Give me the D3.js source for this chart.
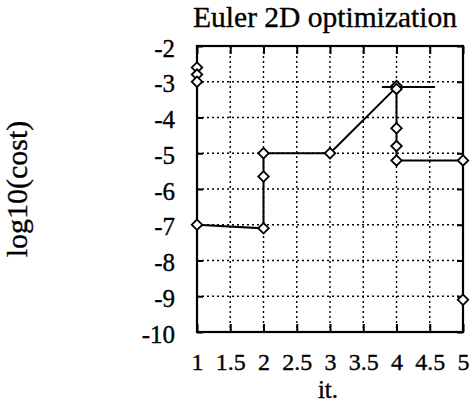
<!DOCTYPE html>
<html>
<head>
<meta charset="utf-8">
<script src="https://cdn.jsdelivr.net/npm/d3@7/dist/d3.min.js"></script>
<style>
  html, body { margin: 0; padding: 0; background: #fff; }
  svg { display: block; }
  text { font-family: "Liberation Serif", "Times New Roman", serif; fill: #000; stroke: #000; stroke-width: 0.35px; }
</style>
</head>
<body>
<svg id="chart" width="471" height="414"></svg>
<script>
// Cost history: iteration index and log10 of the cost
const iterX   = [1, 2, 2, 3, 4, 4, 5, 5];
const logCost = [-7.0, -7.1, -5.0, -5.0, -3.15, -5.2, -5.2, -9.1];

// Short level segment near the peak
const plateauX = [3.78, 4.58];
const plateauY = [-3.15, -3.15];

// Evaluated points drawn as diamonds
const markX = [1, 1, 1, 1, 2, 2, 2, 3, 4, 4, 4, 4, 4, 5, 5];
const markY = [-2.6, -2.8, -3.0, -7.0, -7.1, -5.65, -5.0, -5.0, -3.12, -3.2, -4.3, -4.8, -5.2, -5.2, -9.1];

const xTicks = [1, 1.5, 2, 2.5, 3, 3.5, 4, 4.5, 5];
const xTickLabels = ["1", "1.5", "2", "2.5", "3", "3.5", "4", "4.5", "5"];
const yTicks = [-2, -3, -4, -5, -6, -7, -8, -9, -10];
const yTickLabels = ["-2", "-3", "-4", "-5", "-6", "-7", "-8", "-9", "-10"];

const plotL = 197, plotR = 463, plotT = 46, plotB = 332;
const plotW = plotR - plotL, plotH = plotB - plotT;
const serif = "'Liberation Serif', 'Times New Roman', serif";

const svg = d3.select("#chart");
const x = d3.scaleLinear().domain([1, 5]).range([plotL, plotR]);
const y = d3.scaleLinear().domain([-10, -2]).range([plotB, plotT]);

// Dotted grid
const grid = svg.append("g");
grid.selectAll("line.gx").data(xTicks.slice(1, -1)).join("line")
  .attr("class", "gx")
  .attr("x1", d => x(d)).attr("x2", d => x(d))
  .attr("y1", plotT).attr("y2", plotB);
grid.selectAll("line.gy").data(yTicks.slice(1, -1)).join("line")
  .attr("class", "gy")
  .attr("y1", d => y(d)).attr("y2", d => y(d))
  .attr("x1", plotL).attr("x2", plotR);
grid.selectAll("line")
  .attr("stroke", "#000").attr("stroke-width", 1.4)
  .attr("stroke-dasharray", "2,3");

// Inward ticks on all four sides via d3 axes
function styleAxis(g) {
  g.attr("font-family", serif).attr("font-size", 25);
  g.select(".domain").remove();
  g.selectAll(".tick line").attr("stroke", "#000").attr("stroke-width", 2);
}
svg.append("g").attr("transform", `translate(0,${plotB})`)
  .call(d3.axisBottom(x).tickValues(xTicks).tickSize(-8).tickFormat((d, i) => xTickLabels[i]))
  .call(styleAxis)
  .call(g => g.attr("font-size", 24))
  .call(g => g.selectAll(".tick text").attr("y", 38).attr("dy", 0));
svg.append("g").attr("transform", `translate(0,${plotT})`)
  .call(d3.axisTop(x).tickValues(xTicks).tickSize(-8).tickFormat(""))
  .call(styleAxis);
svg.append("g").attr("transform", `translate(${plotL},0)`)
  .call(d3.axisLeft(y).tickValues(yTicks).tickSize(-6).tickFormat((d, i) => yTickLabels[i]))
  .call(styleAxis)
  .call(g => g.selectAll(".tick text").attr("x", -22).attr("dy", "0.4em"));
svg.append("g").attr("transform", `translate(${plotR},0)`)
  .call(d3.axisRight(y).tickValues(yTicks).tickSize(-6).tickFormat(""))
  .call(styleAxis);

// Frame
svg.append("rect")
  .attr("x", plotL).attr("y", plotT).attr("width", plotW).attr("height", plotH)
  .attr("fill", "none").attr("stroke", "#000").attr("stroke-width", 2.2);

// Cost curve
const line = d3.line().x(d => x(d[0])).y(d => y(d[1]));
svg.append("path")
  .datum(iterX.map((v, i) => [v, logCost[i]]))
  .attr("d", line)
  .attr("fill", "none").attr("stroke", "#000").attr("stroke-width", 2);
svg.append("path")
  .datum(plateauX.map((v, i) => [v, plateauY[i]]))
  .attr("d", line)
  .attr("fill", "none").attr("stroke", "#000").attr("stroke-width", 2);

// Diamonds
const diamond = d3.symbol().type(d3.symbolSquare).size(55);
svg.append("g").selectAll("path")
  .data(markX.map((v, i) => [v, markY[i]]))
  .join("path")
  .attr("transform", d => `translate(${x(d[0])},${y(d[1])}) rotate(45)`)
  .attr("d", diamond)
  .attr("fill", "#fff").attr("stroke", "#000").attr("stroke-width", 1.8);

// Titles
svg.append("text")
  .attr("x", (plotL + plotR) / 2 - 5).attr("y", 27)
  .attr("text-anchor", "middle").attr("font-family", serif).attr("font-size", 29.5)
  .text("Euler 2D optimization");
svg.append("text")
  .attr("x", (plotL + plotR) / 2 - 2).attr("y", 398)
  .attr("text-anchor", "middle").attr("font-family", serif).attr("font-size", 25)
  .text("it.");
svg.append("text")
  .attr("transform", `translate(27,${(plotT + plotB) / 2}) rotate(-90)`)
  .attr("text-anchor", "middle").attr("font-family", serif).attr("font-size", 30)
  .text("log10(cost)");
</script>
</body>
</html>
